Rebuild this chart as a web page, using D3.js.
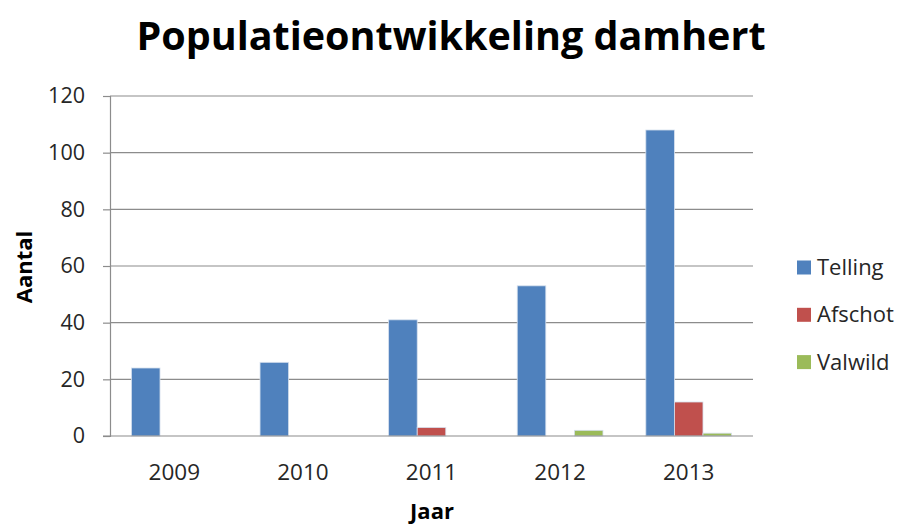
<!DOCTYPE html>
<html>
<head>
<meta charset="utf-8">
<style>
  body { margin: 0; background: #fff; }
  svg { font-family: "Open Sans", Lato, sans-serif; }
  .tick text { fill: #262626; }
</style>
</head>
<body>
<svg width="901" height="524"></svg>
<script src="https://d3js.org/d3.v7.min.js"></script>
<script>
// Data
const years = ['2009', '2010', '2011', '2012', '2013'];
const seriesNames = ['Telling', 'Afschot', 'Valwild'];
const telling = [24, 26, 41, 53, 108];
const afschot = [0, 0, 3, 0, 12];
const valwild = [0, 0, 0, 2, 1];
const colors = ['#4F81BD', '#C0504D', '#9BBB59'];
const yTicks = [0, 20, 40, 60, 80, 100, 120];

const values = [telling, afschot, valwild];
const margin = { top: 96, right: 148, bottom: 88, left: 110 };
const width = 901, height = 524;

const svg = d3.select('svg');

const x = d3.scaleBand()
  .domain(years)
  .range([margin.left, width - margin.right])
  .paddingInner(0)
  .paddingOuter(0);

const xs = d3.scaleBand()
  .domain(seriesNames)
  .range([0, x.bandwidth()])
  .paddingInner(0)
  .paddingOuter(0.75);

const y = d3.scaleLinear()
  .domain([0, 120])
  .range([height - margin.bottom, margin.top]);

// gridlines
svg.append('g')
  .selectAll('line')
  .data(yTicks.slice(1))
  .join('line')
  .attr('x1', margin.left)
  .attr('x2', width - margin.right)
  .attr('y1', d => y(d))
  .attr('y2', d => y(d))
  .attr('stroke', '#8c8c8c')
  .attr('stroke-width', 1.2);

// y axis
const yAxis = svg.append('g')
  .attr('transform', `translate(${margin.left},0)`)
  .call(d3.axisLeft(y).tickValues(yTicks).tickSize(7).tickPadding(18))
  .attr('font-family', null)
  .attr('font-size', 21.5);
yAxis.selectAll('line, path').attr('stroke', '#8c8c8c').attr('stroke-width', 1.2);

// bars
const groups = svg.append('g')
  .selectAll('g')
  .data(years)
  .join('g')
  .attr('transform', d => `translate(${x(d)},0)`);

groups.selectAll('rect')
  .data((d, i) => seriesNames.map((s, j) => ({ s, v: values[j][i], c: colors[j] })))
  .join('rect')
  .attr('x', d => xs(d.s))
  .attr('width', xs.bandwidth())
  .attr('y', d => y(d.v))
  .attr('height', d => y(0) - y(d.v))
  .attr('fill', d => d.c)
  .attr('stroke', d => d.v > 0 ? '#d6e0ee' : 'none')
  .attr('stroke-width', 0.8);

// x axis (no tick marks, baseline only)
const xAxis = svg.append('g')
  .attr('transform', `translate(0,${y(0)})`)
  .call(d3.axisBottom(x).tickSize(0).tickPadding(28))
  .attr('font-family', null)
  .attr('font-size', 22.5);
xAxis.select('path').attr('stroke', '#8c8c8c').attr('stroke-width', 1.2)
  .attr('d', `M${margin.left - 7},0H${width - margin.right}`);

// title
svg.append('text')
  .attr('x', 451)
  .attr('y', 50)
  .attr('text-anchor', 'middle')
  .attr('font-size', 39.5)
  .attr('font-weight', 'bold')
  .attr('fill', '#000')
  .text('Populatieontwikkeling damhert');

// axis titles
svg.append('text')
  .attr('x', 432)
  .attr('y', 519)
  .attr('text-anchor', 'middle')
  .attr('font-size', 22)
  .attr('font-weight', 'bold')
  .text('Jaar');

svg.append('text')
  .attr('transform', 'translate(32,267) rotate(-90)')
  .attr('text-anchor', 'middle')
  .attr('font-size', 22)
  .attr('font-weight', 'bold')
  .text('Aantal');

// legend
const legend = svg.append('g')
  .selectAll('g')
  .data(seriesNames)
  .join('g')
  .attr('transform', (d, i) => `translate(797,${267.5 + i * 47.3})`);
legend.append('rect')
  .attr('x', 0).attr('y', -7)
  .attr('width', 14).attr('height', 14)
  .attr('fill', (d, i) => colors[i]);
legend.append('text')
  .attr('x', 20).attr('y', 7.5)
  .attr('font-size', 22)
  .attr('fill', '#262626')
  .text(d => d);
</script>
</body>
</html>
